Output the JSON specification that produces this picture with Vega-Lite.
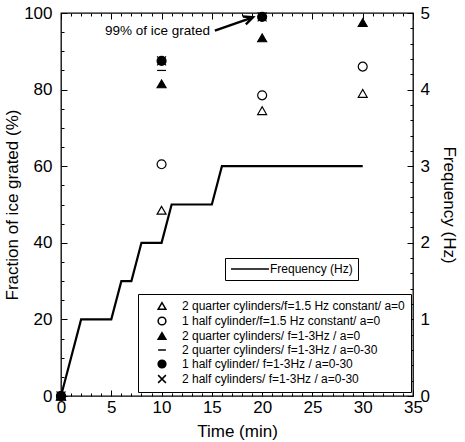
{
  "$schema": "https://vega.github.io/schema/vega-lite/v6.json",
  "width": 352,
  "height": 383,
  "autosize": {"type": "none"},
  "padding": {"left": 61, "top": 13, "right": 52, "bottom": 46},
  "background": "white",
  "config": {
    "font": "Liberation Sans",
    "view": {"stroke": "black", "strokeWidth": 1.3},
    "axis": {
      "labelFont": "Liberation Sans",
      "labelFontSize": 17,
      "labelColor": "black",
      "labelFlush": false,
      "labelOverlap": false,
      "titleFont": "Liberation Sans",
      "titleFontSize": 17,
      "titleFontWeight": "normal",
      "titleColor": "black",
      "domain": false,
      "ticks": true,
      "tickColor": "black",
      "tickWidth": 1,
      "grid": false
    }
  },
  "datasets": {
    "grated": [
      {"time": 0, "series": "2 quarter cylinders/f=1.5 Hz constant/ a=0", "fraction": 0},
      {"time": 0, "series": "1 half cylinder/f=1.5 Hz constant/ a=0", "fraction": 0},
      {"time": 0, "series": "2 quarter cylinders/ f=1-3Hz / a=0", "fraction": 0},
      {"time": 0, "series": "2 quarter cylinders/ f=1-3Hz / a=0-30", "fraction": 0},
      {"time": 0, "series": "1 half cylinder/ f=1-3Hz / a=0-30", "fraction": 0},
      {"time": 0, "series": "2 half cylinders/ f=1-3Hz / a=0-30", "fraction": 0},
      {"time": 10, "series": "2 quarter cylinders/f=1.5 Hz constant/ a=0", "fraction": 48.5},
      {"time": 10, "series": "1 half cylinder/f=1.5 Hz constant/ a=0", "fraction": 60.5},
      {"time": 10, "series": "2 quarter cylinders/ f=1-3Hz / a=0", "fraction": 81.5},
      {"time": 10, "series": "2 quarter cylinders/ f=1-3Hz / a=0-30", "fraction": 85},
      {"time": 10, "series": "1 half cylinder/ f=1-3Hz / a=0-30", "fraction": 87.5},
      {"time": 10, "series": "2 half cylinders/ f=1-3Hz / a=0-30", "fraction": 87.5},
      {"time": 20, "series": "2 quarter cylinders/f=1.5 Hz constant/ a=0", "fraction": 74.5},
      {"time": 20, "series": "1 half cylinder/f=1.5 Hz constant/ a=0", "fraction": 78.5},
      {"time": 20, "series": "2 quarter cylinders/ f=1-3Hz / a=0", "fraction": 93.5},
      {"time": 20, "series": "2 quarter cylinders/ f=1-3Hz / a=0-30", "fraction": 98.5},
      {"time": 20, "series": "1 half cylinder/ f=1-3Hz / a=0-30", "fraction": 99},
      {"time": 20, "series": "2 half cylinders/ f=1-3Hz / a=0-30", "fraction": 99},
      {"time": 30, "series": "2 quarter cylinders/f=1.5 Hz constant/ a=0", "fraction": 79},
      {"time": 30, "series": "1 half cylinder/f=1.5 Hz constant/ a=0", "fraction": 86},
      {"time": 30, "series": "2 quarter cylinders/ f=1-3Hz / a=0", "fraction": 97.5}
    ],
    "frequency": [
      {"time": 0, "hz": 0},
      {"time": 2, "hz": 1},
      {"time": 5, "hz": 1},
      {"time": 6, "hz": 1.5},
      {"time": 7, "hz": 1.5},
      {"time": 8, "hz": 2},
      {"time": 10, "hz": 2},
      {"time": 11, "hz": 2.5},
      {"time": 15, "hz": 2.5},
      {"time": 16, "hz": 3},
      {"time": 30, "hz": 3}
    ],
    "note": [
      {"time": 9.6, "fraction": 95.4, "text": "99% of ice grated"}
    ],
    "arrow": [
      {"part": "shaft", "step": 0, "time": 15.3, "fraction": 95.4},
      {"part": "shaft", "step": 1, "time": 19.0, "fraction": 98.8},
      {"part": "head", "step": 0, "time": 18.09, "fraction": 99.1},
      {"part": "head", "step": 1, "time": 19.09, "fraction": 98.9},
      {"part": "head", "step": 2, "time": 18.38, "fraction": 97.05}
    ]
  },
  "layer": [
    {
      "data": {"name": "frequency"},
      "mark": {"type": "line", "strokeWidth": 2.2},
      "encoding": {
        "x": {
          "field": "time", "type": "quantitative",
          "scale": {"domain": [0, 35], "nice": false},
          "axis": {
            "orient": "top", "title": null, "labels": false,
            "values": [0, 5, 10, 15, 20, 25, 30, 35],
            "offset": -6, "tickSize": 6
          }
        },
        "y": {
          "field": "hz", "type": "quantitative",
          "scale": {"domain": [0, 5], "nice": false},
          "axis": {
            "orient": "right", "title": "Frequency (Hz)", "titlePadding": 10,
            "values": [0, 1, 2, 3, 4, 5],
            "offset": -6, "tickSize": 6, "labelPadding": 7
          }
        },
        "stroke": {
          "datum": "Frequency (Hz)", "type": "nominal",
          "scale": {"range": ["black"]},
          "legend": {
            "orient": "none", "legendX": 164, "legendY": 245, "title": null,
            "strokeColor": "black", "fillColor": "white", "padding": 5,
            "labelFont": "Liberation Sans", "labelFontSize": 12, "labelColor": "black",
            "symbolType": "M-4,0L4,0", "symbolSize": 90, "symbolStrokeWidth": 1.3,
            "labelOffset": 14, "symbolOffset": 14
          }
        }
      }
    },
    {
      "data": {"name": "grated"},
      "mark": {"type": "point", "filled": true, "stroke": "black", "strokeWidth": 1.2, "size": 80, "opacity": 1},
      "encoding": {
        "x": {
          "field": "time", "type": "quantitative",
          "scale": {"domain": [0, 35], "nice": false},
          "axis": {
            "orient": "bottom", "title": "Time (min)", "titlePadding": 8,
            "values": [0, 5, 10, 15, 20, 25, 30, 35],
            "offset": -6, "tickSize": 6, "labelPadding": 3
          }
        },
        "y": {
          "field": "fraction", "type": "quantitative",
          "scale": {"domain": [0, 100], "nice": false},
          "axis": {
            "orient": "left", "title": "Fraction of ice grated (%)", "titlePadding": 2,
            "values": [0, 20, 40, 60, 80, 100],
            "offset": -6, "tickSize": 6, "labelPadding": 9
          }
        },
        "shape": {
          "field": "series", "type": "nominal",
          "scale": {
            "domain": [
              "2 quarter cylinders/f=1.5 Hz constant/ a=0",
              "1 half cylinder/f=1.5 Hz constant/ a=0",
              "2 quarter cylinders/ f=1-3Hz / a=0",
              "2 quarter cylinders/ f=1-3Hz / a=0-30",
              "1 half cylinder/ f=1-3Hz / a=0-30",
              "2 half cylinders/ f=1-3Hz / a=0-30"
            ],
            "range": ["triangle-up", "circle", "triangle-up", "stroke", "circle", "M-1,-1L1,1M1,-1L-1,1"]
          },
          "legend": {
            "orient": "none", "legendX": 77, "legendY": 281, "title": null,
            "strokeColor": "black", "fillColor": "white", "padding": 6,
            "labelFont": "Liberation Sans", "labelFontSize": 12, "labelColor": "black", "labelLimit": 400,
            "symbolSize": 60, "symbolOpacity": 1,
            "rowPadding": 1, "symbolOffset": 12, "labelOffset": 14,
            "encode": {"symbols": {"update": {"stroke": {"value": "black"}, "strokeWidth": {"value": 1.2}}}}
          }
        },
        "fill": {
          "field": "series", "type": "nominal",
          "scale": {
            "domain": [
              "2 quarter cylinders/f=1.5 Hz constant/ a=0",
              "1 half cylinder/f=1.5 Hz constant/ a=0",
              "2 quarter cylinders/ f=1-3Hz / a=0",
              "2 quarter cylinders/ f=1-3Hz / a=0-30",
              "1 half cylinder/ f=1-3Hz / a=0-30",
              "2 half cylinders/ f=1-3Hz / a=0-30"
            ],
            "range": ["white", "white", "black", "black", "black", "black"]
          },
          "legend": {
            "orient": "none", "legendX": 77, "legendY": 281, "title": null,
            "strokeColor": "black", "fillColor": "white", "padding": 6,
            "labelFont": "Liberation Sans", "labelFontSize": 12, "labelColor": "black", "labelLimit": 400,
            "symbolSize": 60, "symbolOpacity": 1,
            "rowPadding": 1, "symbolOffset": 12, "labelOffset": 14,
            "encode": {"symbols": {"update": {"stroke": {"value": "black"}, "strokeWidth": {"value": 1.2}}}}
          }
        }
      }
    },
    {
      "data": {"name": "note"},
      "mark": {"type": "text", "font": "Liberation Sans", "fontSize": 13.5, "color": "black", "align": "center", "baseline": "middle"},
      "encoding": {
        "x": {
          "field": "time", "type": "quantitative", "scale": {"domain": [0, 35], "nice": false},
          "axis": {
            "orient": "bottom", "title": null, "labels": false,
            "values": [1,2,3,4,6,7,8,9,11,12,13,14,16,17,18,19,21,22,23,24,26,27,28,29,31,32,33,34],
            "offset": -3, "tickSize": 3
          }
        },
        "y": {
          "field": "fraction", "type": "quantitative", "scale": {"domain": [0, 100], "nice": false},
          "axis": {
            "orient": "left", "title": null, "labels": false,
            "values": [5,10,15,25,30,35,45,50,55,65,70,75,85,90,95],
            "offset": -3, "tickSize": 3
          }
        },
        "text": {"field": "text"}
      }
    },
    {
      "data": {"name": "arrow"},
      "mark": {"type": "line", "color": "black", "strokeWidth": 2.4},
      "encoding": {
        "x": {
          "field": "time", "type": "quantitative", "scale": {"domain": [0, 35], "nice": false},
          "axis": {
            "orient": "top", "title": null, "labels": false,
            "values": [1,2,3,4,6,7,8,9,11,12,13,14,16,17,18,19,21,22,23,24,26,27,28,29,31,32,33,34],
            "offset": -3, "tickSize": 3
          }
        },
        "y": {
          "field": "fraction", "type": "quantitative", "scale": {"domain": [0, 100], "nice": false},
          "axis": {
            "orient": "right", "title": null, "labels": false,
            "values": [4,8,12,16,24,28,32,36,44,48,52,56,64,68,72,76,84,88,92,96],
            "offset": -3, "tickSize": 3
          }
        },
        "detail": {"field": "part"},
        "order": {"field": "step"}
      }
    }
  ],
  "resolve": {
    "scale": {"y": "independent"},
    "axis": {"x": "independent", "y": "independent"}
  }
}
